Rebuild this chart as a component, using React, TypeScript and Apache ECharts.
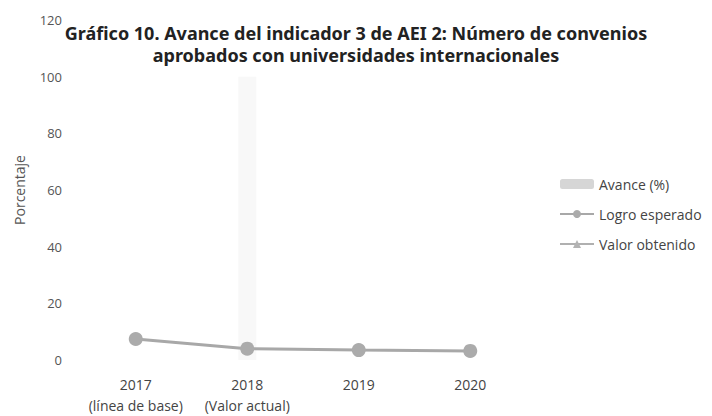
import React, { useEffect, useRef } from "react";
import * as echarts from "echarts";

const categories = ["2017\n(línea de base)", "2018\n(Valor actual)", "2019", "2020"];
const avance = [null, 100, null, null];
const logroEsperado = [7.4, 4, 3.5, 3.2];
const valorObtenido = [null, 3.8, null, null];
const yTicks = { min: 0, max: 120, interval: 20 };

export default function App() {
  const ref = useRef<HTMLDivElement>(null);
  useEffect(() => {
    if (!ref.current) return;
    const chart = echarts.init(ref.current, undefined, { renderer: "svg" });
    const font = "'Open Sans', sans-serif";
    chart.setOption({
      animation: false,
      backgroundColor: "#ffffff",
      title: {
        text: "Gráfico 10. Avance del indicador 3 de AEI 2: Número de convenios\naprobados con universidades internacionales",
        left: "center",
        top: 17,
        textStyle: {
          fontFamily: "'Noto Sans', sans-serif",
          fontWeight: "bold",
          fontSize: 18,
          lineHeight: 22,
          color: "#222222",
        },
      },
      grid: { left: 80, right: 186, top: 20, bottom: 55 },
      legend: {
        orient: "vertical",
        left: 554,
        top: 172,
        itemGap: 16,
        itemWidth: 34,
        itemHeight: 10,
        textStyle: { fontFamily: font, fontSize: 14, color: "#444444" },
        data: [
          { name: "Avance (%)", itemStyle: { color: "#d6d6d6" } },
          "Logro esperado",
          "Valor obtenido",
        ],
      },
      xAxis: {
        type: "category",
        data: categories,
        boundaryGap: true,
        axisLine: { show: false },
        axisTick: { show: false },
        axisLabel: {
          fontFamily: font,
          fontSize: 14,
          color: "#444444",
          lineHeight: 21,
          margin: 14,
          interval: 0,
        },
      },
      yAxis: {
        type: "value",
        min: yTicks.min,
        max: yTicks.max,
        interval: yTicks.interval,
        name: "Porcentaje",
        nameLocation: "middle",
        nameGap: 54,
        nameTextStyle: { fontFamily: font, fontSize: 14, color: "#555555" },
        axisLine: { show: false },
        axisTick: { show: false },
        splitLine: { show: false },
        axisLabel: { fontFamily: font, fontSize: 13, color: "#555555", margin: 18 },
      },
      series: [
        {
          name: "Avance (%)",
          type: "bar",
          data: avance,
          barWidth: 18,
          itemStyle: { color: "#f8f8f8" },
        },
        {
          name: "Logro esperado",
          type: "line",
          data: logroEsperado,
          symbol: "circle",
          symbolSize: 14,
          lineStyle: { color: "#a8a8a8", width: 3 },
          itemStyle: { color: "#ababab" },
        },
        {
          name: "Valor obtenido",
          type: "line",
          data: valorObtenido,
          symbol: "triangle",
          symbolSize: 16,
          lineStyle: { color: "#b0b0b0", width: 3 },
          itemStyle: { color: "#b3b3b3" },
          z: 1,
        },
      ],
    });
    return () => chart.dispose();
  }, []);
  return <div ref={ref} style={{ width: 712, height: 416, position: "absolute", left: 0, top: 0 }} />;
}
